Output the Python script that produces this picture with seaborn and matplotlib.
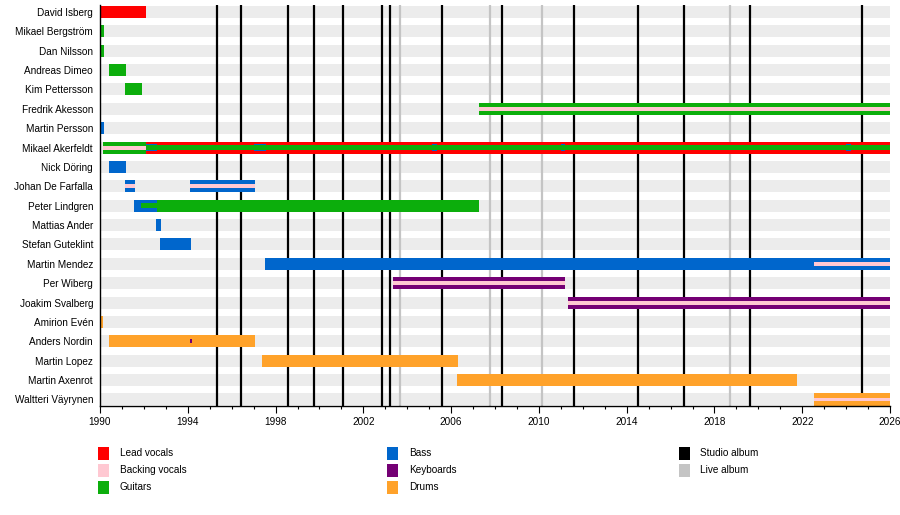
import matplotlib
matplotlib.use("Agg")
import matplotlib.pyplot as plt
from matplotlib.patches import Rectangle
import seaborn as sns
import pandas as pd

# ---------------- data ----------------
members = ["David Isberg", "Mikael Bergström", "Dan Nilsson", "Andreas Dimeo",
           "Kim Pettersson", "Fredrik Akesson", "Martin Persson", "Mikael Akerfeldt",
           "Nick Döring", "Johan De Farfalla", "Peter Lindgren", "Mattias Ander",
           "Stefan Guteklint", "Martin Mendez", "Per Wiberg", "Joakim Svalberg",
           "Amirion Evén", "Anders Nordin", "Martin Lopez", "Martin Axenrot",
           "Waltteri Väyrynen"]

# membership segments (member, role, start, end, primary/secondary)
seg_member = ["David Isberg", "Mikael Bergström", "Dan Nilsson", "Andreas Dimeo",
              "Kim Pettersson", "Fredrik Akesson", "Fredrik Akesson", "Martin Persson",
              "Mikael Akerfeldt", "Mikael Akerfeldt", "Mikael Akerfeldt", "Mikael Akerfeldt",
              "Mikael Akerfeldt", "Mikael Akerfeldt", "Mikael Akerfeldt", "Mikael Akerfeldt",
              "Mikael Akerfeldt", "Mikael Akerfeldt",
              "Nick Döring", "Johan De Farfalla", "Johan De Farfalla",
              "Johan De Farfalla", "Johan De Farfalla",
              "Peter Lindgren", "Peter Lindgren", "Peter Lindgren",
              "Mattias Ander", "Stefan Guteklint",
              "Martin Mendez", "Martin Mendez",
              "Per Wiberg", "Per Wiberg", "Joakim Svalberg", "Joakim Svalberg",
              "Amirion Evén", "Anders Nordin", "Anders Nordin",
              "Martin Lopez", "Martin Axenrot",
              "Waltteri Väyrynen", "Waltteri Väyrynen"]
seg_role = ["Lead vocals", "Guitars", "Guitars", "Guitars",
            "Guitars", "Guitars", "Backing vocals", "Bass",
            "Bass", "Guitars", "Backing vocals", "Lead vocals",
            "Bass", "Bass", "Bass", "Bass",
            "Bass", "Guitars",
            "Bass", "Bass", "Backing vocals",
            "Bass", "Backing vocals",
            "Bass", "Guitars", "Guitars",
            "Bass", "Bass",
            "Bass", "Backing vocals",
            "Keyboards", "Backing vocals", "Keyboards", "Backing vocals",
            "Drums", "Drums", "Keyboards",
            "Drums", "Drums",
            "Drums", "Backing vocals"]
seg_start = [1990.0, 1990.0, 1990.0, 1990.41,
             1991.14, 2007.27, 2007.27, 1990.0,
             1990.14, 1990.14, 1990.14, 1992.1,
             1992.1, 1997.0, 2005.15, 2011.0,
             2024.0, 1992.1,
             1990.41, 1991.14, 1991.14,
             1994.1, 1994.1,
             1991.55, 1991.88, 1992.6,
             1992.55, 1992.73,
             1997.52, 2022.54,
             2003.37, 2003.37, 2011.33, 2011.33,
             1990.0, 1990.41, 1994.1,
             1997.38, 2006.28,
             2022.54, 2022.54]
seg_end = [1992.1, 1990.18, 1990.18, 1991.18,
           1991.91, 2026.0, 2026.0, 1990.18,
           1990.42, 1992.1, 1992.1, 2026.0,
           1992.6, 1997.55, 2005.35, 2011.2,
           2024.2, 2026.0,
           1991.18, 1991.6, 1991.6,
           1997.06, 1997.06,
           1992.6, 1992.6, 2007.27,
           1992.78, 1994.15,
           2026.0, 2026.0,
           2011.19, 2011.19, 2026.0, 2026.0,
           1990.14, 1997.06, 1994.19,
           2006.32, 2021.76,
           2026.0, 2026.0]
seg_primary = [True, True, True, True,
               True, True, False, True,
               True, True, False, True,
               False, False, False, False,
               False, False,
               True, True, False,
               True, False,
               True, False, True,
               True, True,
               True, False,
               True, False, True, False,
               True, True, False,
               True, True,
               True, False]

studio_albums = [1995.31, 1996.44, 1998.58, 1999.75, 2001.09, 2002.84, 2003.22,
                 2005.58, 2008.33, 2011.61, 2014.53, 2016.62, 2019.62, 2024.74]
live_albums = [2003.67, 2007.77, 2010.16, 2018.71]

role_names = ["Lead vocals", "Backing vocals", "Guitars", "Bass", "Keyboards", "Drums"]
role_colors = ["#ff0000", "#ffc8d2", "#0cae0c", "#0066cc", "#740074", "#ffa22a"]
album_names = ["Studio album", "Live album"]
album_colors = ["#000000", "#c4c4c4"]

x_start, x_end = 1990, 2026
major_ticks = list(range(1990, 2027, 4))

# ---------------- styling ----------------
sns.set_theme(style="white")
plt.rcParams["font.family"] = ["Liberation Sans", "DejaVu Sans"]
FS = 7.2

color_of = dict(zip(role_names, role_colors))
FULL = 0.62
secondary_h = {"Bass": 0.34, "Guitars": 0.24, "Keyboards": 0.2, "Lead vocals": 0.34, "Drums": 0.34}
STRIPE = 0.2

fig = plt.figure(figsize=(9.0, 5.15), dpi=100)
ax = fig.add_axes([100 / 900, 1 - 405.5 / 515, 790 / 900, 400.5 / 515])

# background row bands through seaborn's categorical axis
bg = pd.DataFrame({"member": members, "end": [x_end] * len(members)})
sns.barplot(data=bg, x="end", y="member", order=members, orient="h",
            color="#ececec", saturation=1, width=FULL, linewidth=0, ax=ax)
for p in ax.patches:
    p.set_zorder(1)

for yr in studio_albums:
    ax.axvline(yr, color=album_colors[0], lw=1.6, zorder=2)
for yr in live_albums:
    ax.axvline(yr, color=album_colors[1], lw=1.6, zorder=2)

segs = pd.DataFrame({"member": seg_member, "role": seg_role, "start": seg_start,
                     "end": seg_end, "primary": seg_primary})
segs["y"] = segs["member"].map({m: i for i, m in enumerate(members)})


def draw(df, heights, z):
    ax.barh(df["y"], df["end"] - df["start"], left=df["start"], height=heights,
            color=[color_of[r] for r in df["role"]], linewidth=0, zorder=z)


prim = segs[segs["primary"]]
draw(prim, FULL, 3)
sec = segs[(~segs["primary"]) & (segs["role"] != "Backing vocals")].copy()
sec["h"] = sec["role"].map(secondary_h)
sec = sec.sort_values("h", ascending=False, kind="stable")
for i, (_, row) in enumerate(sec.iterrows()):
    ax.barh(row["y"], row["end"] - row["start"], left=row["start"], height=row["h"],
            color=color_of[row["role"]], linewidth=0, zorder=4 + row["role"].__eq__("Guitars") * 0.5
            + row["role"].__eq__("Keyboards") * 0.6)
back = segs[(~segs["primary"]) & (segs["role"] == "Backing vocals")]
draw(back, STRIPE, 6)

ax.set_xlim(x_start, x_end)
ax.set_ylim(20.31, -0.36)
ax.set_xlabel("")
ax.set_ylabel("")
ax.set_xticks(major_ticks)
ax.set_xticks(list(range(x_start, x_end + 1)), minor=True)
ax.tick_params(axis="x", which="major", length=5, width=0.8, color="black",
               labelsize=FS, pad=3, bottom=True, labelcolor="black")
ax.tick_params(axis="x", which="minor", length=2.5, width=0.8, color="black", bottom=True)
ax.tick_params(axis="y", length=0, pad=5, labelsize=FS, labelcolor="black")
for s in ["top", "right"]:
    ax.spines[s].set_visible(False)
for s in ["left", "bottom"]:
    ax.spines[s].set_color("black")
    ax.spines[s].set_linewidth(1.0)
    ax.spines[s].set_zorder(7)

# ---------------- legend ----------------
legend_items = list(zip(role_names, role_colors)) + list(zip(album_names, album_colors))
col_marker_x = [98, 387, 679]
col_text_x = [120, 409, 700]
row_y = [453, 470, 487]
for k, (name, col) in enumerate(legend_items):
    c, r = k // 3, k % 3
    fig.add_artist(Rectangle((col_marker_x[c] / 900, 1 - (row_y[r] + 6.5) / 515),
                             11 / 900, 13 / 515, transform=fig.transFigure,
                             facecolor=col, edgecolor="none"))
    fig.text(col_text_x[c] / 900, 1 - row_y[r] / 515, name, fontsize=FS,
             va="center", ha="left", color="black")

fig.savefig("out.png", dpi=100)
